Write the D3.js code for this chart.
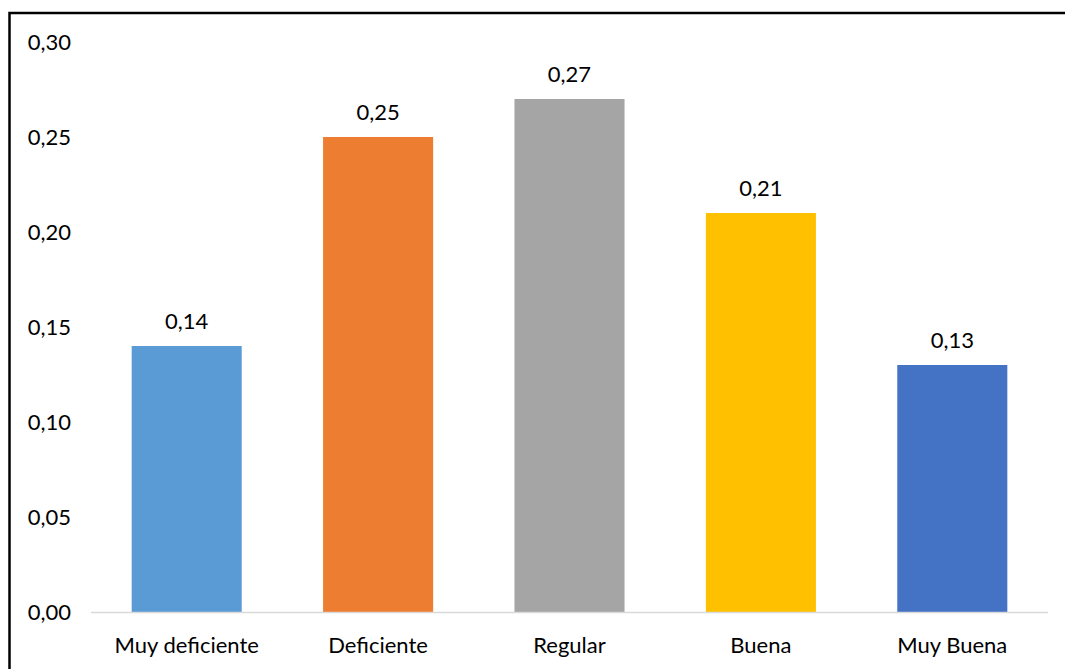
<!DOCTYPE html>
<html>
<head>
<meta charset="utf-8">
<script src="https://cdn.jsdelivr.net/npm/d3@7"></script>
<style>
  body { margin: 0; background: #fff; }
  svg { display: block; font-family: Lato, "Open Sans", sans-serif; }
</style>
</head>
<body>
<svg id="chart" width="1065" height="669"></svg>
<script>
const categories = ['Muy deficiente', 'Deficiente', 'Regular', 'Buena', 'Muy Buena'];
const values = [0.14, 0.25, 0.27, 0.21, 0.13];
const colors = ['#5B9BD5', '#ED7D31', '#A5A5A5', '#FFC000', '#4472C4'];
const yTicks = [0, 0.05, 0.10, 0.15, 0.20, 0.25, 0.30];

const svg = d3.select('#chart');
const fmt = v => d3.format('.2f')(v).replace('.', ',');
const fs = 22;

// outer frame, runs off the right and bottom edge like the source
svg.append('rect')
  .attr('x', 9.5).attr('y', 13)
  .attr('width', 1100).attr('height', 700)
  .attr('fill', 'none').attr('stroke', '#000').attr('stroke-width', 2.5);

const x = d3.scaleBand().domain(categories).range([91, 1048]);
const y = d3.scaleLinear().domain([0, 0.30]).range([612, 42]);
const barW = x.bandwidth() * 0.575;

// y tick labels (no axis line, no gridlines)
svg.append('g').selectAll('text')
  .data(yTicks).join('text')
  .attr('x', 71).attr('y', d => y(d))
  .attr('dy', '0.35em')
  .attr('text-anchor', 'end')
  .attr('font-size', fs).attr('fill', '#000')
  .text(fmt);

svg.append('g').selectAll('rect')
  .data(values).join('rect')
  .attr('x', (d, i) => x(categories[i]) + (x.bandwidth() - barW) / 2)
  .attr('y', d => y(d))
  .attr('width', barW)
  .attr('height', d => y(0) - y(d))
  .attr('fill', (d, i) => colors[i]);

// value labels
svg.append('g').selectAll('text')
  .data(values).join('text')
  .attr('x', (d, i) => x(categories[i]) + x.bandwidth() / 2)
  .attr('y', d => y(d) - 17)
  .attr('text-anchor', 'middle')
  .attr('font-size', fs).attr('fill', '#000')
  .text(fmt);

// baseline
svg.append('line')
  .attr('x1', 91).attr('x2', 1048)
  .attr('y1', y(0) + 0.5).attr('y2', y(0) + 0.5)
  .attr('stroke', '#d9d9d9').attr('stroke-width', 1.5);

// category labels
svg.append('g').selectAll('text')
  .data(categories).join('text')
  .attr('x', d => x(d) + x.bandwidth() / 2)
  .attr('y', 645)
  .attr('dy', '0.35em')
  .attr('text-anchor', 'middle')
  .attr('font-size', fs).attr('fill', '#000')
  .text(d => d);
</script>
</body>
</html>
